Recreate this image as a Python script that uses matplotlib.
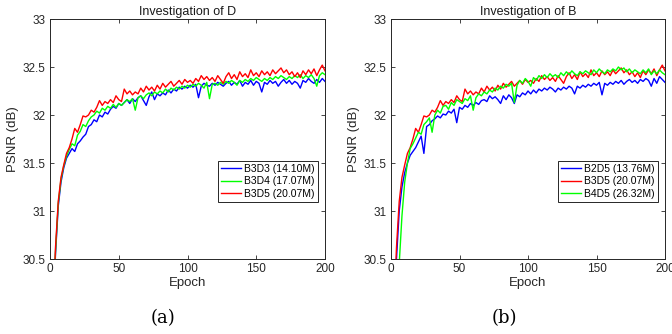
import numpy as np
import matplotlib
matplotlib.use("Agg")
import matplotlib.pyplot as plt
from matplotlib.ticker import FormatStrFormatter

epochs = np.arange(2, 201, 2)

b3d3 = [29.85, 30.55, 31.05, 31.30, 31.45, 31.55, 31.60, 31.65, 31.62, 31.70,
        31.73, 31.77, 31.80, 31.88, 31.90, 31.95, 31.93, 32.00, 31.98, 32.03,
        32.01, 32.06, 32.09, 32.07, 32.12, 32.10, 32.13, 32.16, 32.12, 32.17,
        32.14, 32.18, 32.20, 32.15, 32.10, 32.19, 32.24, 32.16, 32.22, 32.20,
        32.23, 32.21, 32.26, 32.23, 32.27, 32.25, 32.29, 32.27, 32.30, 32.28,
        32.31, 32.29, 32.32, 32.18, 32.30, 32.33, 32.31, 32.30, 32.33, 32.31,
        32.34, 32.32, 32.30, 32.33, 32.35, 32.31, 32.34, 32.32, 32.36, 32.30,
        32.34, 32.32, 32.36, 32.31, 32.35, 32.33, 32.24, 32.34, 32.32, 32.36,
        32.33, 32.35, 32.30, 32.34, 32.37, 32.33, 32.36, 32.32, 32.35, 32.33,
        32.28, 32.36, 32.34, 32.38, 32.35, 32.33, 32.37, 32.34, 32.38, 32.35]

b3d4 = [29.88, 30.58, 31.08, 31.33, 31.47, 31.57, 31.64, 31.70, 31.68, 31.79,
        31.83, 31.90, 31.88, 31.94, 31.98, 32.00, 32.04, 32.02, 32.07, 32.05,
        32.09, 32.07, 32.11, 32.08, 32.12, 32.10, 32.13, 32.16, 32.14, 32.17,
        32.05, 32.18, 32.20, 32.17, 32.21, 32.23, 32.20, 32.24, 32.22, 32.25,
        32.23, 32.27, 32.24, 32.28, 32.26, 32.29, 32.27, 32.30, 32.28, 32.31,
        32.29, 32.32, 32.30, 32.33, 32.31, 32.28, 32.34, 32.17, 32.32, 32.33,
        32.31, 32.34, 32.32, 32.35, 32.33, 32.36, 32.34, 32.31, 32.36, 32.34,
        32.37, 32.35, 32.38, 32.36, 32.39, 32.37, 32.35, 32.38, 32.36, 32.39,
        32.37, 32.40, 32.38, 32.41, 32.39, 32.37, 32.40, 32.38, 32.41, 32.39,
        32.42, 32.38, 32.41, 32.39, 32.42, 32.38, 32.30, 32.41, 32.44, 32.42]

b3d5 = [29.90, 30.62, 31.10, 31.35, 31.48, 31.60, 31.66, 31.75, 31.86, 31.82,
        31.90, 31.99, 31.98, 32.00, 32.05, 32.03, 32.08, 32.15, 32.10, 32.14,
        32.12, 32.16, 32.13, 32.20, 32.16, 32.14, 32.27, 32.22, 32.25, 32.21,
        32.24, 32.22, 32.28, 32.24, 32.30, 32.26, 32.29, 32.25, 32.31, 32.27,
        32.33, 32.29, 32.32, 32.35, 32.30, 32.33, 32.36, 32.32, 32.37, 32.34,
        32.36, 32.33, 32.38, 32.35, 32.41, 32.37, 32.40, 32.36, 32.39, 32.35,
        32.41, 32.37, 32.33, 32.40, 32.44, 32.38, 32.42, 32.37, 32.45, 32.40,
        32.43, 32.39, 32.47, 32.41, 32.44, 32.40, 32.46, 32.42, 32.45, 32.41,
        32.47, 32.43, 32.46, 32.49, 32.44, 32.47, 32.42, 32.45, 32.40, 32.44,
        32.39, 32.46, 32.42, 32.47, 32.43, 32.48, 32.41, 32.47, 32.52, 32.46]

b2d5 = [29.70, 30.50, 31.00, 31.25, 31.40, 31.50, 31.58, 31.62, 31.66, 31.72,
        31.78, 31.60, 31.88, 31.90, 31.94, 31.96, 31.99, 31.97, 32.01, 32.00,
        32.04, 32.02, 32.06, 31.92, 32.08, 32.06, 32.10, 32.08, 32.12, 32.10,
        32.13, 32.11, 32.15, 32.16, 32.14, 32.20, 32.17, 32.19, 32.16, 32.12,
        32.20, 32.16, 32.21, 32.18, 32.12, 32.21, 32.19, 32.23, 32.21, 32.25,
        32.22, 32.26, 32.23, 32.27, 32.25, 32.28, 32.26, 32.29, 32.27, 32.24,
        32.28, 32.26, 32.29, 32.27, 32.30, 32.28, 32.22, 32.30, 32.28, 32.31,
        32.29, 32.32, 32.30, 32.33, 32.31, 32.34, 32.21, 32.33, 32.31, 32.34,
        32.32, 32.35, 32.33, 32.36, 32.32, 32.35, 32.37, 32.34, 32.36, 32.33,
        32.37, 32.35, 32.38, 32.36, 32.30, 32.38, 32.33, 32.40, 32.37, 32.34]

b4d5 = [29.30, 29.90, 30.45, 30.95, 31.30, 31.50, 31.65, 31.70, 31.76, 31.82,
        31.80, 31.90, 31.93, 31.97, 31.82, 32.00, 32.05, 32.02, 32.09, 32.10,
        32.06, 32.13, 32.10, 32.16, 32.14, 32.12, 32.17, 32.15, 32.20, 32.05,
        32.18, 32.22, 32.20, 32.24, 32.22, 32.26, 32.24, 32.28, 32.26, 32.30,
        32.28, 32.32, 32.30, 32.33, 32.13, 32.31, 32.36, 32.33, 32.38, 32.35,
        32.30, 32.39, 32.36, 32.41, 32.38, 32.42, 32.39, 32.43, 32.40, 32.42,
        32.39, 32.44, 32.41, 32.45, 32.42, 32.46, 32.43, 32.41, 32.45, 32.43,
        32.46, 32.44, 32.42, 32.47, 32.44, 32.48, 32.45, 32.43, 32.47, 32.45,
        32.48, 32.46, 32.50, 32.47, 32.49, 32.45, 32.48, 32.44, 32.47, 32.45,
        32.43, 32.47, 32.44, 32.48, 32.42, 32.46, 32.43, 32.47, 32.44, 32.42]

panels = [
    ("Investigation of D", "(a)",
     [("B3D3 (14.10M)", b3d3, "#0000ff"),
      ("B3D4 (17.07M)", b3d4, "#00ff00"),
      ("B3D5 (20.07M)", b3d5, "#ff0000")]),
    ("Investigation of B", "(b)",
     [("B2D5 (13.76M)", b2d5, "#0000ff"),
      ("B3D5 (20.07M)", b3d5, "#ff0000"),
      ("B4D5 (26.32M)", b4d5, "#00ff00")]),
]

xticks = [0, 50, 100, 150, 200]
yticks = [30.5, 31, 31.5, 32, 32.5, 33]

plt.rcParams["font.family"] = ["Liberation Sans", "DejaVu Sans"]
axis_col = "#262626"

fig = plt.figure(figsize=(6.72, 3.34), dpi=100)
fig.patch.set_facecolor("white")

ax_rects = [[50 / 672, 75 / 334, 275 / 672, 240 / 334],
            [391 / 672, 75 / 334, 274 / 672, 240 / 334]]
cap_x = [163 / 672, 504 / 672]

for rect, cx, (title, cap, series) in zip(ax_rects, cap_x, panels):
    ax = fig.add_axes(rect)
    for label, vals, col in series:
        ax.plot(epochs, vals, color=col, lw=1.0, label=label)

    ax.set_xlim(0, 200)
    ax.set_ylim(30.5, 33)
    ax.set_xticks(xticks)
    ax.set_yticks(yticks)
    ax.yaxis.set_major_formatter(FormatStrFormatter("%g"))
    ax.tick_params(direction="in", top=True, right=True, length=3,
                   width=0.6, labelsize=8.5, colors=axis_col, pad=3)
    for sp in ax.spines.values():
        sp.set_color(axis_col)
        sp.set_linewidth(0.7)

    ax.set_title(title, fontsize=9, color="#1a1a1a", pad=3)
    ax.set_xlabel("Epoch", fontsize=9.5, color=axis_col, labelpad=1)
    ax.set_ylabel("PSNR (dB)", fontsize=9.5, color=axis_col, labelpad=3)

    leg = ax.legend(loc="upper right", bbox_to_anchor=(0.975, 0.41),
                    fontsize=7.5, frameon=True, fancybox=False,
                    framealpha=1, edgecolor=axis_col, borderpad=0.3,
                    labelspacing=0.25, handlelength=1.9, handletextpad=0.3,
                    borderaxespad=0)
    leg.get_frame().set_linewidth(0.7)

    fig.text(cx, 1 - 318 / 334, cap, ha="center", va="center",
             fontsize=13, family=["DejaVu Serif"])

fig.savefig("out.png", dpi=100, facecolor="white")
